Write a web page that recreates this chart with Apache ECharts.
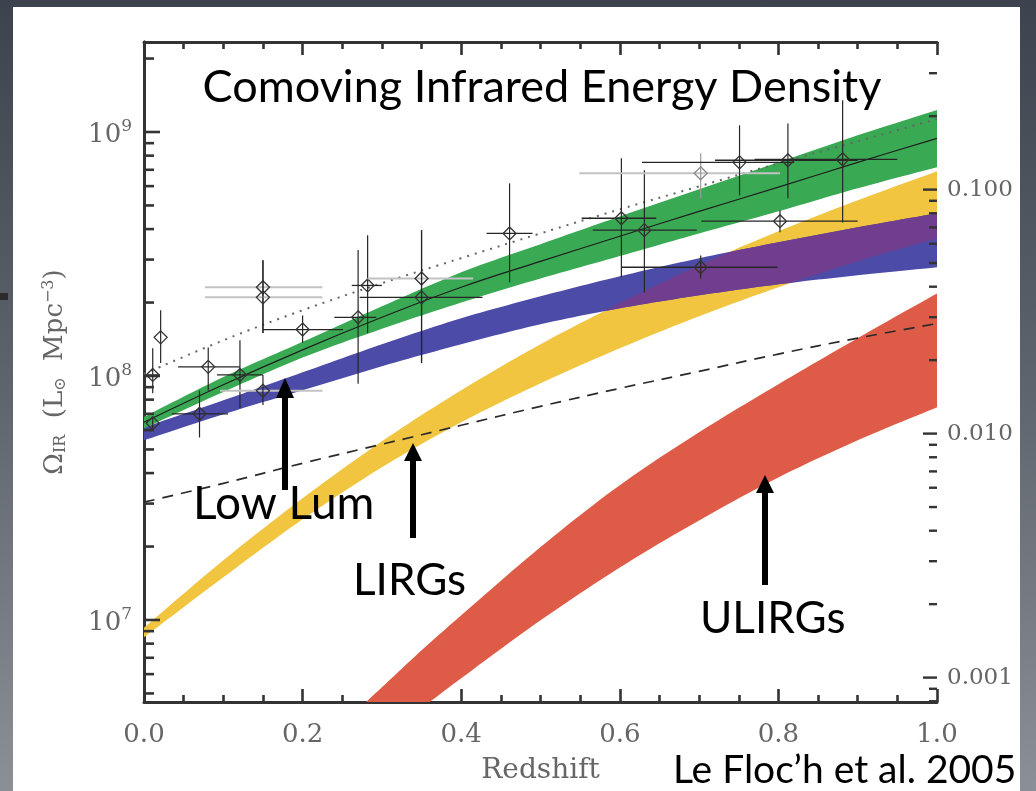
<!DOCTYPE html>
<html><head><meta charset="utf-8">
<script src="https://cdn.jsdelivr.net/npm/echarts@6/dist/echarts.min.js"></script>
<style>
html,body{margin:0;padding:0;width:1036px;height:791px;overflow:hidden;
  background:linear-gradient(180deg,#3d434e 0%,#5f656e 50%,#8b8f96 100%);}
#panel{position:absolute;left:13px;top:7px;width:1007px;height:784px;background:#ffffff;}
#mark{position:absolute;left:0;top:293px;width:8px;height:7px;background:#2b2b2b;}
#chart{position:absolute;left:0;top:0;width:1036px;height:791px;}
</style></head><body>
<div id="panel"></div><div id="mark"></div><div id="chart"></div>
<script>
// ---- data ----
const redshift   = [0.0, 0.1, 0.2, 0.3, 0.4, 0.5, 0.6, 0.7, 0.8, 0.9, 1.0];
// total (green band) and its central solid line
const totalHigh  = [6.8e7, 9.9e7, 1.38e8, 1.93e8, 2.66e8, 3.47e8, 4.51e8, 5.82e8, 7.51e8, 9.69e8, 1.23e9];
const totalLow   = [6.1e7, 8.6e7, 1.19e8, 1.56e8, 2.00e8, 2.51e8, 3.10e8, 3.84e8, 4.73e8, 5.88e8, 7.17e8];
const totalMid   = [6.46e7, 9.2e7, 1.28e8, 1.74e8, 2.31e8, 2.95e8, 3.74e8, 4.73e8, 5.94e8, 7.51e8, 9.42e8];
// dotted and dashed curves
const dottedLine = [1.02e8, 1.40e8, 1.86e8, 2.40e8, 3.04e8, 3.84e8, 4.82e8, 5.99e8, 7.44e8, 9.16e8, 1.13e9];
const dashedLine = [3.04e7, 3.63e7, 4.39e7, 5.25e7, 6.28e7, 7.51e7, 8.90e7, 1.045e8, 1.23e8, 1.43e8, 1.64e8];
// low luminosity (blue band)
const lowLumHigh = [6.16e7, 7.95e7, 1.035e8, 1.349e8, 1.724e8, 2.121e8, 2.562e8, 3.037e8, 3.532e8, 4.068e8, 4.643e8];
const lowLumLow  = [5.45e7, 6.97e7, 8.74e7, 1.096e8, 1.349e8, 1.629e8, 1.895e8, 2.141e8, 2.376e8, 2.586e8, 2.79e8];
// LIRGs (yellow band)
const lirgHigh   = [9.3e6, 1.757e7, 3.153e7, 5.40e7, 8.74e7, 1.349e8, 1.986e8, 2.842e8, 3.918e8, 5.25e8, 6.90e8];
const lirgLow    = [8.5e6, 1.496e7, 2.586e7, 4.225e7, 6.459e7, 9.33e7, 1.299e8, 1.757e8, 2.31e8, 2.952e8, 3.666e8];
// ULIRGs (red band)
const ulirgZ     = [0.25, 0.3, 0.35, 0.4, 0.5, 0.6, 0.7, 0.8, 0.9, 1.0];
const ulirgHigh  = [3.74e6, 5.30e6, 7.51e6, 1.045e7, 1.99e7, 3.57e7, 5.88e7, 9.25e7, 1.43e8, 2.18e8];
const ulirgLow   = [2.42e6, 3.28e6, 4.35e6, 5.77e6, 9.97e6, 1.64e7, 2.56e7, 3.84e7, 5.45e7, 7.44e7];
// data points with error bars (grey: 0 black, 1 grey x-bar, 2 all grey)
const ptZ    = [0.021, 0.011, 0.011, 0.081, 0.121, 0.150, 0.070, 0.150, 0.150, 0.200, 0.270, 0.282, 0.350, 0.350, 0.461, 0.602, 0.631, 0.702, 0.751, 0.812, 0.881, 0.802, 0.702];
const ptV    = [1.44e8, 1.01e8, 6.4e7, 1.09e8, 1.01e8, 8.7e7, 7.0e7, 2.31e8, 2.10e8, 1.55e8, 1.74e8, 2.35e8, 2.51e8, 2.10e8, 3.84e8, 4.43e8, 3.96e8, 6.77e8, 7.51e8, 7.66e8, 7.73e8, 4.31e8, 2.79e8];
const ptZLo  = [0.021, 0.003, 0.011, 0.043, 0.092, 0.096, 0.035, 0.077, 0.077, 0.150, 0.240, 0.262, 0.282, 0.272, 0.432, 0.552, 0.566, 0.549, 0.628, 0.720, 0.770, 0.703, 0.602];
const ptZHi  = [0.021, 0.020, 0.011, 0.121, 0.150, 0.225, 0.106, 0.225, 0.225, 0.251, 0.293, 0.300, 0.415, 0.427, 0.490, 0.646, 0.697, 0.802, 0.820, 0.900, 0.950, 0.900, 0.799];
const ptVLo  = [1.13e8, 8.5e7, 6.0e7, 8.7e7, 7.4e7, 7.6e7, 5.6e7, 1.50e8, 1.50e8, 1.37e8, 9.3e7, 1.50e8, 1.13e8, 1.13e8, 2.42e8, 2.54e8, 2.20e8, 5.35e8, 5.50e8, 5.35e8, 4.26e8, 3.88e8, 2.51e8];
const ptVHi  = [1.86e8, 1.30e8, 6.8e7, 1.31e8, 1.40e8, 1.01e8, 8.7e7, 2.98e8, 2.98e8, 1.77e8, 3.28e8, 3.77e8, 3.96e8, 3.96e8, 6.16e8, 7.80e8, 6.97e8, 8.18e8, 1.065e9, 1.084e9, 1.35e9, 4.78e8, 3.12e8];
const ptGrey = [0, 0, 0, 0, 0, 1, 0, 1, 1, 0, 0, 0, 1, 0, 0, 0, 0, 2, 0, 0, 0, 0, 0];
// axes
const yMin = 4.612e6, yMax = 2.338e9;       // left axis (L_sun Mpc^-3)
const rightScale = 5.806e9;                  // right axis = left / rightScale
const xTickLabels = ['0.0', '0.2', '0.4', '0.6', '0.8', '1.0'];

const C = { green:'#3aa953', blue:'#4c4ba7', purple:'#713d8e', yellow:'#f2c540', red:'#de5c47' };
const SERIF = '"DejaVu Serif", serif';

const chart = echarts.init(document.getElementById('chart'), null, {renderer:'canvas'});

// Catmull-Rom smoothing of pixel points (drawing only)
const SUB = 12;
function smoothPts(p){
  const out=[]; const n=p.length;
  for(let i=0;i<n-1;i++){
    const p0=p[Math.max(i-1,0)], p1=p[i], p2=p[i+1], p3=p[Math.min(i+2,n-1)];
    for(let s=0;s<SUB;s++){
      const t=s/SUB, t2=t*t, t3=t2*t;
      const f=(a,b,c,d)=>0.5*((2*b)+(-a+c)*t+(2*a-5*b+4*c-d)*t2+(-a+3*b-3*c+d)*t3);
      out.push([f(p0[0],p1[0],p2[0],p3[0]), f(p0[1],p1[1],p2[1],p3[1])]);
    }
  }
  out.push(p[n-1].slice());
  return out;
}
function bandSeries(name, zs, lo, hi, color){
  return { type:'custom', name, clip:true, silent:true, z:1, xAxisIndex:0, yAxisIndex:0,
    encode:{x:0, y:1}, data:[[zs[0], hi[0]]],
    renderItem(params, api){
      const up = smoothPts(zs.map((z,i)=>api.coord([z, hi[i]])));
      const dn = smoothPts(zs.map((z,i)=>api.coord([z, lo[i]]))).reverse();
      return {type:'polygon', shape:{points: up.concat(dn)}, style:{fill:color}};
    }};
}
const overlapSeries = { type:'custom', name:'overlap', clip:true, silent:true, z:1,
  encode:{x:0,y:1}, data:[[0.5, 2e8]],
  renderItem(params, api){
    const bt = smoothPts(redshift.map((z,i)=>api.coord([z, lowLumHigh[i]])));
    const bb = smoothPts(redshift.map((z,i)=>api.coord([z, lowLumLow[i]])));
    const yt = smoothPts(redshift.map((z,i)=>api.coord([z, lirgHigh[i]])));
    const yb = smoothPts(redshift.map((z,i)=>api.coord([z, lirgLow[i]])));
    const up=[], dn=[];
    for(let k=0;k<bt.length;k++){
      const top=Math.max(bt[k][1], yt[k][1]), bot=Math.min(bb[k][1], yb[k][1]);
      if(top<bot){ up.push([bt[k][0],top]); dn.push([bt[k][0],bot]); }
    }
    if(!up.length) return null;
    return {type:'polygon', shape:{points: up.concat(dn.reverse())}, style:{fill:C.purple}};
  }};

const pointData = ptZ.map((z,i)=>[z, ptV[i], ptZLo[i], ptZHi[i], ptVLo[i], ptVHi[i], ptGrey[i]]);
const pointSeries = { type:'custom', name:'points', silent:true, z:6, clip:false,
  encode:{x:0,y:1}, data: pointData,
  renderItem(params, api){
    const z=api.value(0), v=api.value(1);
    const c=api.coord([z,v]);
    const xl=api.coord([api.value(2),v]), xh=api.coord([api.value(3),v]);
    const yl=api.coord([z,api.value(4)]), yh=api.coord([z,api.value(5)]);
    const g=api.value(6);
    const dark='#262626', light='#c2c2c2';
    const s=6.5;
    return {type:'group', children:[
      {type:'line', shape:{x1:xl[0],y1:xl[1],x2:xh[0],y2:xh[1]}, style:{stroke: g>=1?light:dark, lineWidth: g>=1?2:1.3}},
      {type:'line', shape:{x1:yl[0],y1:yl[1],x2:yh[0],y2:yh[1]}, style:{stroke: g>=2?'#9a9a9a':dark, lineWidth:1.2}},
      {type:'polygon', shape:{points:[[c[0],c[1]-s],[c[0]+s,c[1]],[c[0],c[1]+s],[c[0]-s,c[1]]]},
        style:{fill:'none', stroke: g>=2?'#8a8a8a':'#333', lineWidth:1.3}}
    ]};
  }};

// minor/major tick marks for the logarithmic frame sides
function logTicks(lo, hi){
  const out=[];
  for(let d=Math.floor(Math.log10(lo)); d<=Math.ceil(Math.log10(hi)); d++){
    for(let m=1;m<=9;m++){ const v=m*Math.pow(10,d); if(v>=lo*1.0001 && v<=hi*0.9999) out.push([m===1?0:1, v, m===1?1:0]); }
  }
  return out;
}
const leftTickSeries = { type:'custom', silent:true, z:7, xAxisIndex:0, yAxisIndex:0,
  encode:{y:1}, data: logTicks(yMin, yMax),
  renderItem(params, api){
    const p = api.coord([0, api.value(1)]);
    const len = api.value(2) ? 16 : 10;
    return {type:'line', shape:{x1:p[0],y1:p[1],x2:p[0]+len,y2:p[1]}, style:{stroke:'#333', lineWidth:2.6}};
  }};
const rightTickSeries = { type:'custom', silent:true, z:7, xAxisIndex:0, yAxisIndex:1,
  encode:{y:1}, data: logTicks(yMin/rightScale, yMax/rightScale),
  renderItem(params, api){
    const p = api.coord([1, api.value(1)]);
    const len = api.value(2) ? 14 : 8;
    return {type:'line', shape:{x1:p[0],y1:p[1],x2:p[0]-len,y2:p[1]}, style:{stroke:'#333', lineWidth:2.4}};
  }};

function lineSeries(name, vals, style){
  return {type:'line', name, z:4, silent:true, symbol:'none', smooth:0.4,
    data: redshift.map((z,i)=>[z, vals[i]]), lineStyle: style};
}

const axisLine = {show:true, lineStyle:{color:'#333', width:3}};
const option = {
  animation:false,
  backgroundColor:'transparent',
  grid:{left:144, right:99, top:42, bottom:89},
  xAxis:[
    {type:'value', position:'bottom', min:0, max:1, interval:0.2,
     axisLine, splitLine:{show:false},
     axisTick:{show:true, inside:true, length:13, lineStyle:{color:'#333', width:2.6}},
     minorTick:{show:true, splitNumber:4, length:7, lineStyle:{color:'#333', width:2.6}},
     axisLabel:{margin:20, fontFamily:SERIF, fontSize:26, color:'#666',
       formatter:(v)=>{ const i=Math.round(v/0.2); return Math.abs(v-i*0.2)<1e-6 ? (xTickLabels[i]||'') : ''; }},
     name:'Redshift', nameLocation:'middle', nameGap:55,
     nameTextStyle:{fontFamily:SERIF, fontSize:28, color:'#666'}},
    {type:'value', position:'top', min:0, max:1, interval:0.2,
     axisLine, splitLine:{show:false}, axisLabel:{show:false},
     axisTick:{show:true, inside:true, length:13, lineStyle:{color:'#333', width:2.6}},
     minorTick:{show:true, splitNumber:4, length:7, lineStyle:{color:'#333', width:2.6}}}
  ],
  yAxis:[
    {type:'log', logBase:10, position:'left', min:yMin, max:yMax,
     axisLine, axisTick:{show:false}, splitLine:{show:false}, minorTick:{show:false},
     axisLabel:{margin:12, showMinLabel:false, showMaxLabel:false,
       formatter:(v)=>{ const e=Math.log10(v), r=Math.round(e); return Math.abs(e-r)<1e-6 ? '{b|10}{s|'+r+'}' : ''; },
       rich:{ b:{fontFamily:SERIF, fontSize:26, color:'#666', padding:[6,0,0,0]},
              s:{fontFamily:SERIF, fontSize:17, color:'#666', padding:[0,0,10,0]} }},
     name:'{t|Ω}{u|IR}{t|  (L}{u|⊙}{t|  Mpc}{p|−3}{t|)}', nameLocation:'middle', nameGap:74,
     nameTextStyle:{ rich:{ t:{fontFamily:SERIF, fontSize:26, color:'#666'},
                            u:{fontFamily:SERIF, fontSize:16, color:'#666', padding:[11,0,0,0]},
                            p:{fontFamily:SERIF, fontSize:16, color:'#666', padding:[0,0,13,0]} }}},
    {type:'log', logBase:10, position:'right', min:yMin/rightScale, max:yMax/rightScale,
     axisLine, axisTick:{show:false}, splitLine:{show:false}, minorTick:{show:false},
     axisLabel:{margin:10, fontFamily:SERIF, fontSize:23, color:'#666', showMinLabel:false, showMaxLabel:false,
       formatter:(v)=>{ const e=Math.log10(v), r=Math.round(e); return Math.abs(e-r)<1e-6 ? v.toFixed(3) : ''; }}}
  ],
  series:[
    bandSeries('ULIRGs', ulirgZ, ulirgLow, ulirgHigh, C.red),
    bandSeries('LIRGs', redshift, lirgLow, lirgHigh, C.yellow),
    bandSeries('Low Lum', redshift, lowLumLow, lowLumHigh, C.blue),
    overlapSeries,
    bandSeries('Total', redshift, totalLow, totalHigh, C.green),
    lineSeries('dashed', dashedLine, {color:'#2a2a2a', width:1.7, type:[11,8]}),
    lineSeries('dotted', dottedLine, {color:'#666', width:2, type:[2,6]}),
    lineSeries('total', totalMid, {color:'#1e1e1e', width:1.2}),
    pointSeries, leftTickSeries, rightTickSeries
  ],
  graphic:[
    {type:'text', x:542, y:87, z:100, style:{text:'Comoving Infrared Energy Density', font:'45px Lato', fill:'#000', align:'center', verticalAlign:'middle'}},
    {type:'text', x:193, y:504, z:100, style:{text:'Low Lum', font:'46px Lato', fill:'#000', align:'left', verticalAlign:'middle'}},
    {type:'text', x:353, y:581, z:100, style:{text:'LIRGs', font:'44px Lato', fill:'#000', align:'left', verticalAlign:'middle'}},
    {type:'text', x:700, y:619, z:100, style:{text:'ULIRGs', font:'44px Lato', fill:'#000', align:'left', verticalAlign:'middle'}},
    {type:'text', x:673, y:770, z:100, style:{text:'Le Floc\u2019h et al. 2005', font:'39px Lato', fill:'#000', align:'left', verticalAlign:'middle'}},
    // arrows
    {type:'rect', z:100, shape:{x:282, y:396, width:6, height:94}, style:{fill:'#000'}},
    {type:'polygon', z:100, shape:{points:[[285,378],[294,398],[276,398]]}, style:{fill:'#000'}},
    {type:'rect', z:100, shape:{x:410, y:458, width:6, height:80}, style:{fill:'#000'}},
    {type:'polygon', z:100, shape:{points:[[413,443],[422,461],[404,461]]}, style:{fill:'#000'}},
    {type:'rect', z:100, shape:{x:762, y:490, width:6, height:95}, style:{fill:'#000'}},
    {type:'polygon', z:100, shape:{points:[[765,475],[774,493],[756,493]]}, style:{fill:'#000'}}
  ]
};
chart.setOption(option);
</script>
</body></html>
